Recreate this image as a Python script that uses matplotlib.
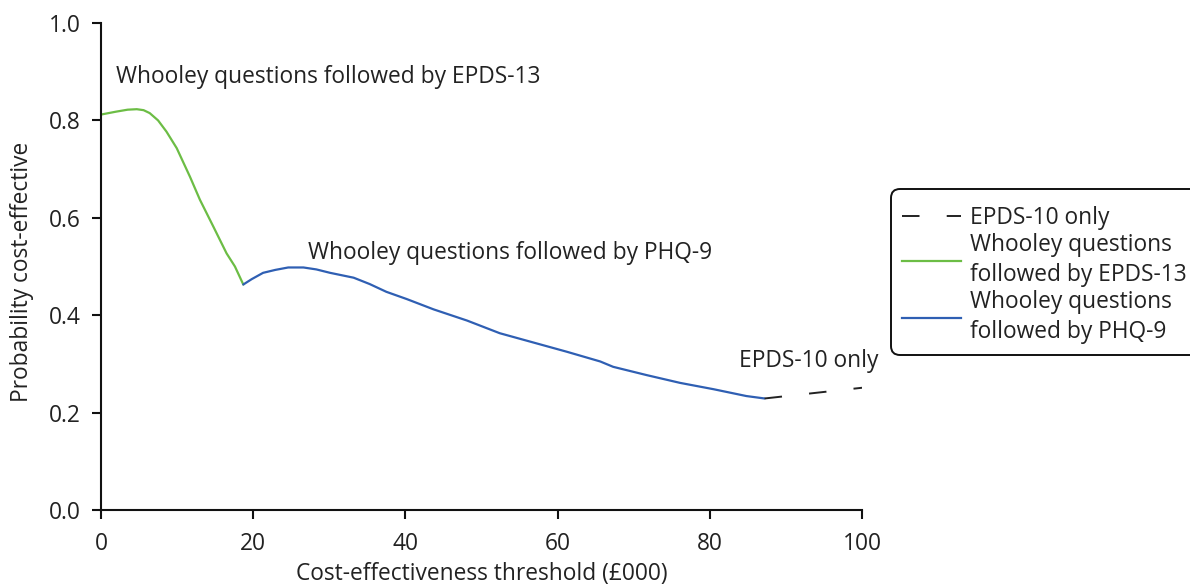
import matplotlib
matplotlib.use("Agg")
import matplotlib.pyplot as plt
from matplotlib.lines import Line2D
from matplotlib.patches import FancyBboxPatch
from matplotlib.transforms import IdentityTransform

plt.rcParams["font.family"] = ["Open Sans", "DejaVu Sans"]

# cost-effectiveness acceptability frontier
green_x = [0, 2.0, 3.5, 4.7, 5.6, 6.4, 7.5, 8.6, 9.95, 11.7, 13.0, 14.76, 16.5, 17.6, 18.7]
green_y = [0.812, 0.818, 0.822, 0.823, 0.821, 0.815, 0.800, 0.777, 0.743, 0.684, 0.637, 0.582, 0.527, 0.500, 0.463]

blue_x = [18.7, 19.8, 21.3, 22.9, 24.6, 26.6, 28.3, 30.1, 33.2, 35.3, 37.5, 40.2,
          43.7, 48.1, 52.4, 56.8, 61.2, 65.6, 67.3, 71.7, 76.1, 80.5, 84.8, 87.2]
blue_y = [0.463, 0.474, 0.487, 0.493, 0.498, 0.498, 0.494, 0.487, 0.477, 0.464, 0.448, 0.433,
          0.412, 0.389, 0.363, 0.344, 0.325, 0.305, 0.294, 0.277, 0.261, 0.248, 0.234, 0.229]

black_x = [87.2, 100]
black_y = [0.229, 0.251]

x_ticks = [0, 20, 40, 60, 80, 100]
y_ticks = [0.0, 0.2, 0.4, 0.6, 0.8, 1.0]

GREEN = "#6cbd45"
BLUE = "#2f5fb3"
BLACK = "#222222"
TEXT = "#222222"
FS = 16.4

W, H = 1190, 585
fig = plt.figure(figsize=(W / 100, H / 100), dpi=100, facecolor="white")
ax = fig.add_axes([101 / W, 1 - 510 / H, 761 / W, 487 / H])

ax.plot(green_x, green_y, color=GREEN, lw=1.6, solid_capstyle="round")
ax.plot(blue_x, blue_y, color=BLUE, lw=1.6, solid_capstyle="round")
ax.plot(black_x, black_y, color=BLACK, lw=1.4, dashes=(9, 14))

ax.set_xlim(0, 100)
ax.set_ylim(0, 1.0)
ax.set_xticks(x_ticks)
ax.set_yticks(y_ticks)
ax.set_yticklabels([f"{v:.1f}" for v in y_ticks])
for side in ("top", "right"):
    ax.spines[side].set_visible(False)
for side in ("left", "bottom"):
    ax.spines[side].set_linewidth(1.5)
    ax.spines[side].set_color("#111111")
ax.tick_params(direction="out", length=6.5, width=1.5, labelsize=FS, colors="#111111")
ax.tick_params(axis="x", pad=9)
ax.tick_params(axis="y", pad=8)
for lab in ax.get_xticklabels() + ax.get_yticklabels():
    lab.set_color(TEXT)

# axis titles placed in figure pixels
fig.text(481.5 / W, 1 - 574 / H, "Cost-effectiveness threshold (£000)", fontsize=FS,
         ha="center", va="center", color=TEXT)
fig.text(22 / W, 1 - 272 / H, "Probability cost-effective", fontsize=FS, rotation=90,
         ha="center", va="center", color=TEXT)

ax.text(2.0, 0.889, "Whooley questions followed by EPDS-13", fontsize=FS, va="center", ha="left", color=TEXT)
ax.text(27.2, 0.528, "Whooley questions followed by PHQ-9", fontsize=FS, va="center", ha="left", color=TEXT)
ax.text(83.8, 0.306, "EPDS-10 only", fontsize=FS, va="center", ha="left", color=TEXT)

# legend frame runs off the right edge in the original
frame = FancyBboxPatch((891, H - 355), 330, 166, boxstyle="round,pad=0,rounding_size=9",
                       transform=IdentityTransform(), facecolor="white", edgecolor="#111111",
                       linewidth=1.4, zorder=5)
fig.add_artist(frame)

handles = [
    Line2D([], [], color=BLACK, lw=1.4, dashes=(9, 14)),
    Line2D([], [], color=GREEN, lw=1.6),
    Line2D([], [], color=BLUE, lw=1.6),
]
labels = [
    "EPDS-10 only",
    "Whooley questions\nfollowed by EPDS-13",
    "Whooley questions\nfollowed by PHQ-9",
]
leg = fig.legend(
    handles, labels,
    loc="upper left",
    bbox_to_anchor=(902 / W, 1 - 206 / H),
    fontsize=FS,
    frameon=False,
    handlelength=2.6,
    handletextpad=0.4,
    labelspacing=0.15,
    borderpad=0,
    borderaxespad=0,
)
leg.set_zorder(6)
for t in leg.get_texts():
    t.set_linespacing(1.3)
    t.set_color(TEXT)

fig.savefig("out.png", dpi=100, facecolor="white")
